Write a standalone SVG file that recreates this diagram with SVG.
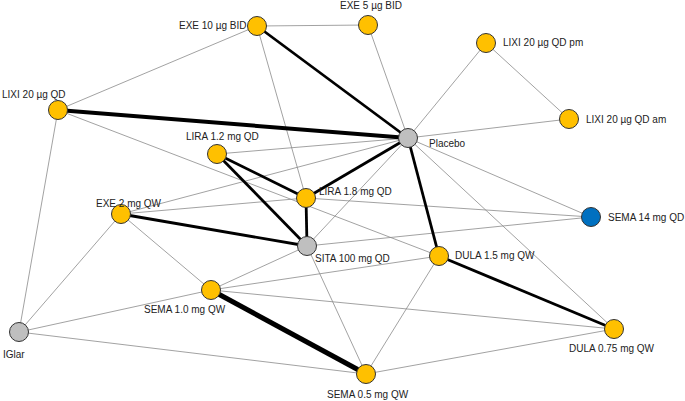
<svg xmlns="http://www.w3.org/2000/svg" width="685" height="401" viewBox="0 0 685 401">
<style>
.t{stroke:#8a8a8a;stroke-width:0.8;fill:none}
.k{stroke:#000;stroke-width:2.8;fill:none}
.kk{stroke:#000;stroke-width:4;fill:none}
.kkk{stroke:#000;stroke-width:5;fill:none}
.y{fill:#FFC000;stroke:#333;stroke-width:1}
.g{fill:#BFBFBF;stroke:#333;stroke-width:1}
.b{fill:#0070C0;stroke:#333;stroke-width:1}
text{font-family:"Liberation Sans",Arial,sans-serif;font-size:10px;fill:#222}
</style>
<rect width="685" height="401" fill="#fff"/>
<g id="edges">
<line class="t" x1="58" y1="110" x2="257" y2="26"/>
<line class="t" x1="58" y1="110" x2="19" y2="332"/>
<line class="t" x1="58" y1="110" x2="439" y2="256"/>
<line class="t" x1="257" y1="26" x2="368" y2="25"/>
<line class="t" x1="257" y1="26" x2="306" y2="198"/>
<line class="t" x1="368" y1="25" x2="408" y2="138"/>
<line class="t" x1="486" y1="43" x2="408" y2="138"/>
<line class="t" x1="486" y1="43" x2="569" y2="119"/>
<line class="t" x1="569" y1="119" x2="408" y2="138"/>
<line class="t" x1="217" y1="154" x2="408" y2="138"/>
<line class="t" x1="121" y1="214" x2="408" y2="138"/>
<line class="t" x1="121" y1="214" x2="306" y2="198"/>
<line class="t" x1="121" y1="214" x2="19" y2="332"/>
<line class="t" x1="121" y1="214" x2="211" y2="290"/>
<line class="t" x1="307" y1="246" x2="408" y2="138"/>
<line class="t" x1="408" y1="138" x2="591" y2="217"/>
<line class="t" x1="408" y1="138" x2="614" y2="329"/>
<line class="t" x1="306" y1="198" x2="591" y2="217"/>
<line class="t" x1="307" y1="246" x2="591" y2="217"/>
<line class="t" x1="307" y1="246" x2="366" y2="374"/>
<line class="t" x1="307" y1="246" x2="211" y2="290"/>
<line class="t" x1="439" y1="256" x2="366" y2="374"/>
<line class="t" x1="211" y1="290" x2="439" y2="256"/>
<line class="t" x1="211" y1="290" x2="614" y2="329"/>
<line class="t" x1="211" y1="290" x2="19" y2="332"/>
<line class="t" x1="19" y1="332" x2="366" y2="374"/>
<line class="t" x1="366" y1="374" x2="614" y2="329"/>
<line class="kk" x1="58" y1="110" x2="408" y2="138"/>
<line class="k" x1="257" y1="26" x2="408" y2="138"/>
<line class="k" x1="306" y1="198" x2="408" y2="138"/>
<line class="k" x1="217" y1="154" x2="306" y2="198"/>
<line class="k" x1="217" y1="154" x2="307" y2="246"/>
<line class="k" x1="306" y1="198" x2="307" y2="246"/>
<line class="k" x1="121" y1="214" x2="307" y2="246"/>
<line class="k" x1="408" y1="138" x2="439" y2="256"/>
<line class="k" x1="439" y1="256" x2="614" y2="329"/>
<line class="kkk" x1="211" y1="290" x2="366" y2="374"/>
</g>
<g id="n_lixi20qd"><circle class="y" cx="58" cy="110" r="9.5"/><text x="2" y="98">LIXI 20 µg QD</text></g>
<g id="n_exe10"><circle class="y" cx="257" cy="26" r="9.5"/><text x="179" y="29">EXE 10 µg BID</text></g>
<g id="n_exe5"><circle class="y" cx="368" cy="25" r="9.5"/><text x="340" y="9">EXE 5 µg BID</text></g>
<g id="n_lixipm"><circle class="y" cx="486" cy="43" r="9.5"/><text x="503" y="46">LIXI 20 µg QD pm</text></g>
<g id="n_lixiam"><circle class="y" cx="569" cy="119" r="9.5"/><text x="586" y="123">LIXI 20 µg QD am</text></g>
<g id="n_placebo"><circle class="g" cx="408" cy="138" r="9.5"/><text x="429" y="147">Placebo</text></g>
<g id="n_lira12"><circle class="y" cx="217" cy="154" r="9.5"/><text x="186" y="140">LIRA 1.2 mg QD</text></g>
<g id="n_lira18"><circle class="y" cx="306" cy="198" r="9.5"/><text x="319" y="195">LIRA 1.8 mg QD</text></g>
<g id="n_exe2"><circle class="y" cx="121" cy="214" r="9.5"/><text x="96" y="207">EXE 2 mg QW</text></g>
<g id="n_sema14"><circle class="b" cx="591" cy="217" r="9.5"/><text x="608" y="221">SEMA 14 mg QD</text></g>
<g id="n_sita"><circle class="g" cx="307" cy="246" r="9.5"/><text x="315" y="262">SITA 100 mg QD</text></g>
<g id="n_dula15"><circle class="y" cx="439" cy="256" r="9.5"/><text x="455" y="259">DULA 1.5 mg QW</text></g>
<g id="n_sema10"><circle class="y" cx="211" cy="290" r="9.5"/><text x="144" y="313">SEMA 1.0 mg QW</text></g>
<g id="n_iglar"><circle class="g" cx="19" cy="332" r="9.5"/><text x="3" y="358">IGlar</text></g>
<g id="n_sema05"><circle class="y" cx="366" cy="374" r="9.5"/><text x="327" y="398">SEMA 0.5 mg QW</text></g>
<g id="n_dula075"><circle class="y" cx="614" cy="329" r="9.5"/><text x="569" y="352">DULA 0.75 mg QW</text></g>
</svg>
